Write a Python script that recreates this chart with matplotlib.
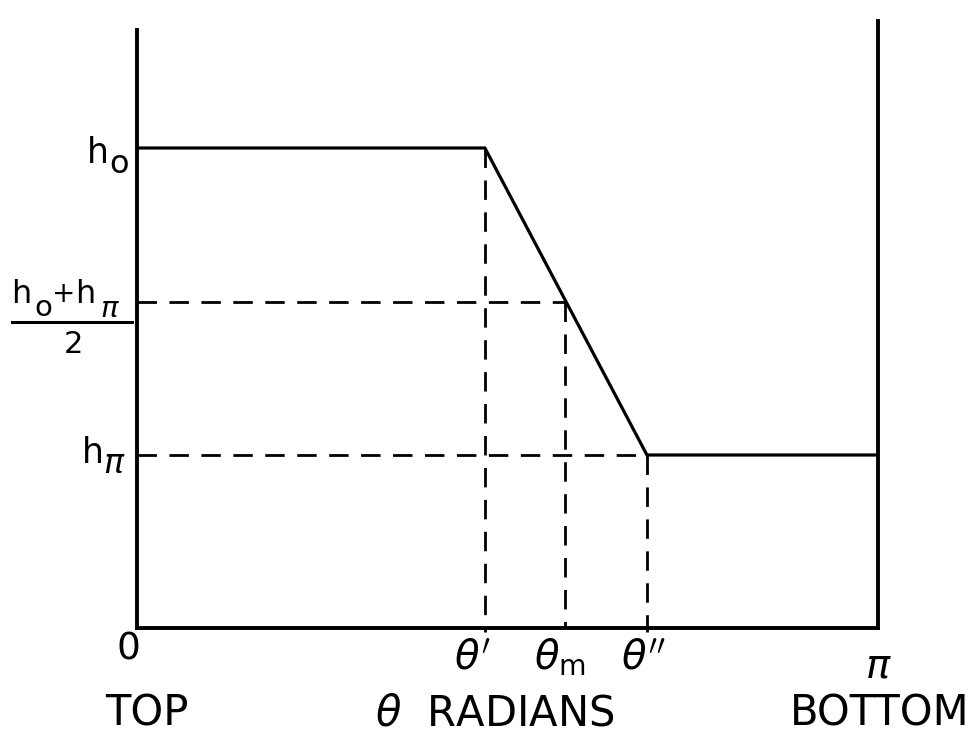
import numpy as np
import matplotlib
matplotlib.use("Agg")
import matplotlib.pyplot as plt
from matplotlib.lines import Line2D

plt.rcParams['font.family'] = ['DejaVu Sans']
plt.rcParams['mathtext.fontset'] = 'dejavusans'

# ---- data (theta in radians, height in arbitrary units) ----
theta_prime = 1.475      # theta'
theta_m = 1.815          # theta_m
theta_dprime = 2.162     # theta''
theta_max = np.pi
h_0 = 4.80
h_pi = 1.73
h_mid = (h_0 + h_pi) / 2

profile_theta = [0.0, theta_prime, theta_dprime, theta_max]
profile_h = [h_0, h_0, h_pi, h_pi]

W, H = 978, 738
fig = plt.figure(figsize=(W / 100, H / 100), dpi=100)
L, R, B, T = 137, 878, 628, 21
ax = fig.add_axes([L / W, 1 - B / H, (R - L) / W, (B - T) / H])
ax.set_xlim(0, theta_max)
ax.set_ylim(0, (B - T) / 100)

for s in ['left', 'bottom', 'right']:
    ax.spines[s].set_linewidth(2.8)
    ax.spines[s].set_color('black')
ax.spines['top'].set_visible(False)
ax.spines['left'].set_bounds(0, (B - 30) / 100)
ax.set_xticks([])
ax.set_yticks([])

# solid profile
ax.plot(profile_theta, profile_h, color='black', lw=2.3, solid_joinstyle='miter', zorder=3)

# dashed guide lines
dash = dict(color='black', lw=2.0, dashes=(7, 4.5), zorder=2)
ax.plot([0, theta_m], [h_mid, h_mid], **dash)
ax.plot([0, theta_dprime], [h_pi, h_pi], **dash)
ax.plot([theta_prime, theta_prime], [h_0, -0.04], clip_on=False, **dash)
ax.plot([theta_m, theta_m], [h_mid, 0], **dash)
ax.plot([theta_dprime, theta_dprime], [h_pi, -0.04], clip_on=False, **dash)

def fx(px):
    return px / W

def fy(py):
    return 1 - py / H

def piece(s, x, base, size, ha='left'):
    fig.text(fx(x), fy(base), s, fontsize=size, ha=ha, va='baseline')

# y-axis labels
piece('h', 87, 163, 25)
piece('o', 109, 173, 23)
piece('h', 82, 463, 25)
piece(r'$\pi$', 103, 473, 24)

piece('h', 11, 303, 23)
piece('o', 34, 316, 21)
piece('+', 52, 302, 20)
piece('h', 75, 303, 23)
piece(r'$\pi$', 100, 317, 21)
fig.add_artist(Line2D([fx(12), fx(132)], [fy(322), fy(322)], color='black', lw=2.2))
piece('2', 73, 353, 22, ha='center')

# x-axis labels
ylab = -0.30
ax.text(0.0 - (137 - 128) / 741 * np.pi, -0.21, '0', fontsize=27, ha='center', va='center', clip_on=False)
ax.text(theta_prime - 12 / 741 * np.pi, ylab, r"$\theta'$", fontsize=29, ha='center', va='center', clip_on=False)
ax.text(theta_m - 5 / 741 * np.pi, ylab, r"$\theta_\mathrm{m}$", fontsize=29, ha='center', va='center', clip_on=False)
ax.text(theta_dprime - 4 / 741 * np.pi, ylab, r"$\theta''$", fontsize=29, ha='center', va='center', clip_on=False)
ax.text(theta_max, -0.38, r"$\pi$", fontsize=29, ha='center', va='center', clip_on=False)

fs_big = 30
fig.text(fx(147), fy(714), 'TOP', fontsize=fs_big, ha='center', va='center')
fig.text(fx(495), fy(714), r'$\theta$  RADIANS', fontsize=fs_big, ha='center', va='center')
fig.text(fx(880), fy(714), 'BOTTOM', fontsize=fs_big, ha='center', va='center')

fig.savefig('out.png', dpi=100, facecolor='white')
